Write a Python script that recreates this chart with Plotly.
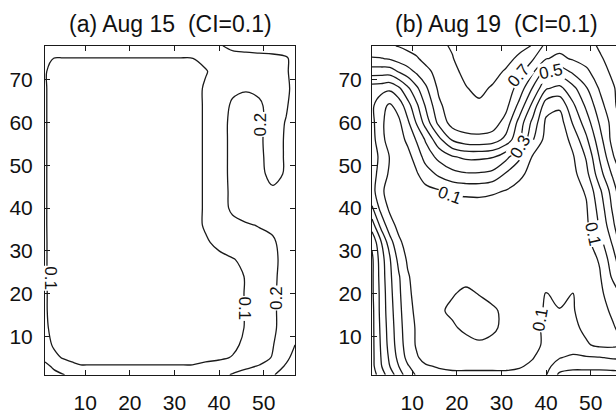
import plotly.graph_objects as go

# ---------------- data ----------------
X_NODES = [1, 3, 5, 7, 9, 11, 13, 16, 19, 22, 25, 28, 31, 34, 37, 40, 43, 46, 49, 52, 55, 57]
Y_NODES = [1, 3, 5, 8, 12, 16, 20, 24, 28, 32, 36, 40, 44, 48, 52, 56, 60, 64, 68, 72, 75, 78]

# Panel (a) Aug 15 field (rows = Y_NODES, cols = X_NODES)
Z_AUG15 = [
    [0.26, 0.23, 0.205, 0.18, 0.16, 0.15, 0.15, 0.15, 0.15, 0.15, 0.15, 0.15, 0.15, 0.15, 0.16, 0.18, 0.205, 0.23, 0.26, 0.29, 0.35, 0.40],
    [0.23, 0.18, 0.14, 0.12, 0.105, 0.105, 0.105, 0.105, 0.105, 0.105, 0.105, 0.105, 0.105, 0.105, 0.12, 0.14, 0.17, 0.185, 0.205, 0.25, 0.31, 0.36],
    [0.17, 0.12, 0.095, 0.08, 0.075, 0.075, 0.075, 0.075, 0.075, 0.075, 0.075, 0.075, 0.075, 0.075, 0.08, 0.085, 0.105, 0.14, 0.17, 0.205, 0.28, 0.33],
    [0.13, 0.09, 0.07, 0.06, 0.06, 0.06, 0.06, 0.06, 0.06, 0.06, 0.06, 0.06, 0.06, 0.06, 0.06, 0.06, 0.08, 0.12, 0.16, 0.195, 0.26, 0.30],
    [0.115, 0.075, 0.06, 0.05, 0.05, 0.05, 0.05, 0.05, 0.05, 0.05, 0.05, 0.05, 0.05, 0.05, 0.055, 0.06, 0.07, 0.105, 0.14, 0.18, 0.25, 0.28],
    [0.11, 0.07, 0.05, 0.05, 0.05, 0.05, 0.05, 0.05, 0.05, 0.05, 0.05, 0.05, 0.05, 0.05, 0.055, 0.06, 0.07, 0.105, 0.14, 0.18, 0.25, 0.28],
    [0.11, 0.07, 0.05, 0.05, 0.05, 0.05, 0.05, 0.05, 0.05, 0.05, 0.05, 0.05, 0.05, 0.05, 0.055, 0.06, 0.07, 0.105, 0.14, 0.18, 0.25, 0.28],
    [0.11, 0.065, 0.05, 0.05, 0.05, 0.05, 0.05, 0.05, 0.05, 0.05, 0.05, 0.05, 0.05, 0.05, 0.055, 0.06, 0.07, 0.105, 0.14, 0.18, 0.24, 0.27],
    [0.11, 0.065, 0.05, 0.05, 0.05, 0.05, 0.05, 0.05, 0.05, 0.05, 0.05, 0.05, 0.05, 0.05, 0.06, 0.08, 0.095, 0.12, 0.15, 0.18, 0.23, 0.26],
    [0.11, 0.065, 0.05, 0.05, 0.05, 0.05, 0.05, 0.05, 0.05, 0.05, 0.05, 0.05, 0.05, 0.07, 0.09, 0.12, 0.15, 0.16, 0.17, 0.19, 0.23, 0.26],
    [0.11, 0.06, 0.05, 0.05, 0.05, 0.05, 0.05, 0.05, 0.05, 0.05, 0.05, 0.05, 0.05, 0.07, 0.11, 0.14, 0.17, 0.19, 0.205, 0.215, 0.24, 0.27],
    [0.11, 0.06, 0.05, 0.05, 0.05, 0.05, 0.05, 0.05, 0.05, 0.05, 0.05, 0.05, 0.05, 0.07, 0.11, 0.15, 0.22, 0.25, 0.25, 0.24, 0.26, 0.28],
    [0.11, 0.06, 0.05, 0.05, 0.05, 0.05, 0.05, 0.05, 0.05, 0.05, 0.05, 0.05, 0.05, 0.07, 0.11, 0.15, 0.225, 0.25, 0.25, 0.215, 0.25, 0.27],
    [0.11, 0.06, 0.05, 0.05, 0.05, 0.05, 0.05, 0.05, 0.05, 0.05, 0.05, 0.05, 0.05, 0.07, 0.11, 0.15, 0.23, 0.25, 0.225, 0.17, 0.21, 0.25],
    [0.11, 0.06, 0.05, 0.05, 0.05, 0.05, 0.05, 0.05, 0.05, 0.05, 0.05, 0.05, 0.05, 0.07, 0.11, 0.15, 0.23, 0.25, 0.22, 0.16, 0.21, 0.25],
    [0.11, 0.06, 0.05, 0.05, 0.05, 0.05, 0.05, 0.05, 0.05, 0.05, 0.05, 0.05, 0.05, 0.07, 0.11, 0.15, 0.23, 0.25, 0.215, 0.16, 0.21, 0.25],
    [0.11, 0.06, 0.05, 0.05, 0.05, 0.05, 0.05, 0.05, 0.05, 0.05, 0.05, 0.05, 0.05, 0.07, 0.11, 0.15, 0.23, 0.25, 0.22, 0.16, 0.205, 0.25],
    [0.11, 0.06, 0.05, 0.05, 0.05, 0.05, 0.05, 0.05, 0.05, 0.05, 0.05, 0.05, 0.05, 0.07, 0.11, 0.15, 0.215, 0.24, 0.215, 0.16, 0.19, 0.24],
    [0.11, 0.06, 0.05, 0.05, 0.05, 0.05, 0.05, 0.05, 0.05, 0.05, 0.05, 0.05, 0.05, 0.07, 0.11, 0.14, 0.18, 0.19, 0.18, 0.16, 0.18, 0.23],
    [0.11, 0.06, 0.05, 0.05, 0.05, 0.05, 0.05, 0.05, 0.05, 0.05, 0.05, 0.05, 0.05, 0.06, 0.095, 0.13, 0.15, 0.16, 0.16, 0.16, 0.19, 0.23],
    [0.13, 0.098, 0.098, 0.098, 0.098, 0.098, 0.098, 0.098, 0.098, 0.098, 0.098, 0.098, 0.098, 0.098, 0.12, 0.15, 0.16, 0.165, 0.17, 0.175, 0.19, 0.23],
    [0.16, 0.14, 0.14, 0.14, 0.14, 0.14, 0.14, 0.14, 0.14, 0.14, 0.14, 0.14, 0.14, 0.15, 0.17, 0.19, 0.225, 0.235, 0.24, 0.245, 0.25, 0.26],
]

# Panel (b) Aug 19 field
Z_AUG19 = [
    [0.65, 0.55, 0.45, 0.35, 0.25, 0.19, 0.15, 0.13, 0.12, 0.12, 0.12, 0.12, 0.12, 0.13, 0.15, 0.195, 0.32, 0.34, 0.34, 0.34, 0.34, 0.34],
    [0.63, 0.51, 0.40, 0.30, 0.21, 0.15, 0.11, 0.09, 0.08, 0.08, 0.08, 0.08, 0.08, 0.09, 0.12, 0.17, 0.25, 0.27, 0.27, 0.27, 0.26, 0.26],
    [0.63, 0.50, 0.38, 0.27, 0.17, 0.11, 0.07, 0.05, 0.05, 0.05, 0.05, 0.05, 0.05, 0.06, 0.095, 0.15, 0.195, 0.22, 0.21, 0.205, 0.19, 0.19],
    [0.63, 0.49, 0.36, 0.25, 0.15, 0.09, 0.05, 0.04, 0.04, 0.05, 0.085, 0.07, 0.04, 0.04, 0.07, 0.12, 0.15, 0.14, 0.11, 0.08, 0.08, 0.09],
    [0.63, 0.48, 0.35, 0.24, 0.14, 0.09, 0.05, 0.04, 0.08, 0.13, 0.14, 0.12, 0.07, 0.04, 0.07, 0.12, 0.13, 0.12, 0.08, 0.06, 0.09, 0.13],
    [0.63, 0.47, 0.34, 0.23, 0.13, 0.08, 0.05, 0.08, 0.125, 0.15, 0.145, 0.12, 0.07, 0.04, 0.07, 0.11, 0.105, 0.105, 0.07, 0.06, 0.12, 0.17],
    [0.62, 0.47, 0.33, 0.22, 0.12, 0.07, 0.04, 0.04, 0.09, 0.125, 0.095, 0.06, 0.04, 0.04, 0.05, 0.105, 0.07, 0.102, 0.06, 0.08, 0.15, 0.22],
    [0.62, 0.46, 0.32, 0.21, 0.11, 0.06, 0.04, 0.04, 0.04, 0.06, 0.05, 0.04, 0.04, 0.04, 0.04, 0.05, 0.04, 0.04, 0.05, 0.09, 0.22, 0.32],
    [0.62, 0.45, 0.31, 0.17, 0.085, 0.05, 0.04, 0.04, 0.04, 0.04, 0.04, 0.04, 0.04, 0.04, 0.04, 0.04, 0.04, 0.04, 0.05, 0.11, 0.26, 0.38],
    [0.58, 0.41, 0.24, 0.12, 0.06, 0.04, 0.04, 0.04, 0.04, 0.04, 0.04, 0.04, 0.04, 0.04, 0.04, 0.04, 0.04, 0.04, 0.07, 0.16, 0.32, 0.45],
    [0.45, 0.27, 0.14, 0.07, 0.04, 0.04, 0.04, 0.04, 0.04, 0.04, 0.04, 0.04, 0.04, 0.04, 0.04, 0.04, 0.04, 0.05, 0.08, 0.21, 0.38, 0.51],
    [0.31, 0.17, 0.08, 0.05, 0.04, 0.04, 0.04, 0.04, 0.04, 0.04, 0.05, 0.05, 0.04, 0.04, 0.04, 0.04, 0.04, 0.05, 0.09, 0.24, 0.42, 0.55],
    [0.24, 0.12, 0.06, 0.04, 0.04, 0.05, 0.07, 0.09, 0.12, 0.13, 0.13, 0.115, 0.095, 0.07, 0.05, 0.04, 0.04, 0.06, 0.11, 0.28, 0.45, 0.58],
    [0.25, 0.15, 0.085, 0.05, 0.05, 0.09, 0.15, 0.22, 0.27, 0.29, 0.29, 0.27, 0.19, 0.12, 0.07, 0.04, 0.04, 0.07, 0.17, 0.36, 0.52, 0.62],
    [0.26, 0.17, 0.095, 0.05, 0.07, 0.14, 0.24, 0.33, 0.39, 0.42, 0.42, 0.41, 0.33, 0.22, 0.09, 0.05, 0.04, 0.09, 0.21, 0.41, 0.59, 0.69],
    [0.24, 0.13, 0.06, 0.06, 0.12, 0.21, 0.31, 0.47, 0.61, 0.66, 0.67, 0.65, 0.57, 0.41, 0.21, 0.06, 0.04, 0.13, 0.28, 0.46, 0.64, 0.72],
    [0.23, 0.12, 0.06, 0.08, 0.18, 0.31, 0.44, 0.63, 0.74, 0.76, 0.76, 0.75, 0.66, 0.46, 0.27, 0.08, 0.05, 0.21, 0.35, 0.51, 0.64, 0.72],
    [0.22, 0.13, 0.085, 0.14, 0.26, 0.38, 0.51, 0.68, 0.76, 0.78, 0.785, 0.78, 0.73, 0.57, 0.37, 0.14, 0.12, 0.28, 0.42, 0.56, 0.68, 0.74],
    [0.25, 0.24, 0.22, 0.28, 0.38, 0.48, 0.58, 0.72, 0.78, 0.795, 0.82, 0.79, 0.76, 0.66, 0.49, 0.31, 0.27, 0.37, 0.49, 0.61, 0.69, 0.74],
    [0.45, 0.45, 0.45, 0.51, 0.56, 0.62, 0.67, 0.74, 0.78, 0.82, 0.85, 0.83, 0.79, 0.74, 0.62, 0.46, 0.45, 0.52, 0.58, 0.66, 0.72, 0.75],
    [0.59, 0.595, 0.61, 0.64, 0.67, 0.69, 0.73, 0.77, 0.795, 0.85, 0.88, 0.87, 0.83, 0.78, 0.71, 0.605, 0.58, 0.61, 0.64, 0.69, 0.73, 0.75],
    [0.68, 0.68, 0.69, 0.705, 0.72, 0.74, 0.76, 0.78, 0.81, 0.86, 0.89, 0.89, 0.86, 0.83, 0.795, 0.67, 0.63, 0.64, 0.67, 0.71, 0.74, 0.76],
]

LEVEL_START, LEVEL_END, LEVEL_STEP = 0.1, 0.9, 0.1
TICKS_X = [10, 20, 30, 40, 50]
TICKS_Y = [10, 20, 30, 40, 50, 60, 70]
TITLES = ["(a) Aug 15  (CI=0.1)", "(b) Aug 19  (CI=0.1)"]

# contour labels: (text, x, y, angle) for each panel
LABELS_A = [("0.1", 2.2, 23.5, 90), ("0.1", 45.6, 16.5, 90), ("0.2", 53.0, 19.0, -90), ("0.2", 49.3, 59.5, -90)]
LABELS_B = [("0.1", 18.5, 43.0, 20), ("0.3", 34.2, 54.5, -60), ("0.7", 33.9, 71.0, -50),
            ("0.5", 41.2, 72.0, -12), ("0.1", 50.4, 34.0, 78), ("0.1", 38.7, 14.0, -80)]

# ---------------- figure ----------------
W, H = 616, 414
FONT = "Liberation Sans, Arial, Helvetica, sans-serif"
LINE = "#1a1a1a"

fig = go.Figure()
for z, xa, ya in [(Z_AUG15, "x", "y"), (Z_AUG19, "x2", "y2")]:
    fig.add_trace(go.Contour(
        x=X_NODES, y=Y_NODES, z=z, xaxis=xa, yaxis=ya,
        autocontour=False,
        contours=dict(start=LEVEL_START, end=LEVEL_END, size=LEVEL_STEP,
                      coloring="none", showlabels=False),
        line=dict(color=LINE, width=1.3, smoothing=1.0),
        showscale=False, hoverinfo="skip",
    ))

ydom = [(H - 385) / H, (H - 47) / H]
axis_common = dict(showgrid=False, zeroline=False, showline=True, linecolor=LINE, linewidth=1,
                   ticks="inside", ticklen=5, tickwidth=1, tickcolor=LINE,
                   tickfont=dict(family=FONT, size=21, color="#111"))

fig.update_layout(
    width=W, height=H, margin=dict(l=0, r=0, t=0, b=0),
    paper_bgcolor="white", plot_bgcolor="white", showlegend=False,
    xaxis=dict(domain=[45 / W, 295 / W], range=[1, 57], tickvals=TICKS_X, mirror="ticks",
               anchor="y", ticklabelstandoff=9, **axis_common),
    yaxis=dict(domain=ydom, range=[1, 78], tickvals=TICKS_Y, mirror="ticks",
               anchor="x", ticklabelstandoff=7, **axis_common),
    xaxis2=dict(domain=[372 / W, 1.0], range=[1, 1 + (616 - 372) * 56 / 250], tickvals=TICKS_X,
                mirror="ticks", anchor="y2", ticklabelstandoff=9, **axis_common),
    yaxis2=dict(domain=ydom, range=[1, 78], tickvals=TICKS_Y, mirror=False,
                anchor="x2", ticklabelstandoff=5, **axis_common),
)

ann = []
for i, t in enumerate(TITLES):
    cx = (45 + 295) / 2 / W if i == 0 else (372 + 622) / 2 / W
    ann.append(dict(text=t, x=cx, y=(H - 25) / H, xref="paper", yref="paper",
                    showarrow=False, xanchor="center", yanchor="middle",
                    font=dict(family=FONT, size=23, color="#111")))
for labels, xr, yr in [(LABELS_A, "x", "y"), (LABELS_B, "x2", "y2")]:
    for txt, lx, ly, ang in labels:
        ann.append(dict(text=txt, x=lx, y=ly, xref=xr, yref=yr, showarrow=False,
                        textangle=ang, bgcolor="white", borderpad=0,
                        font=dict(family=FONT, size=17, color="#111")))
fig.update_layout(annotations=ann)

fig.write_html("out.html", config={"displayModeBar": False})
